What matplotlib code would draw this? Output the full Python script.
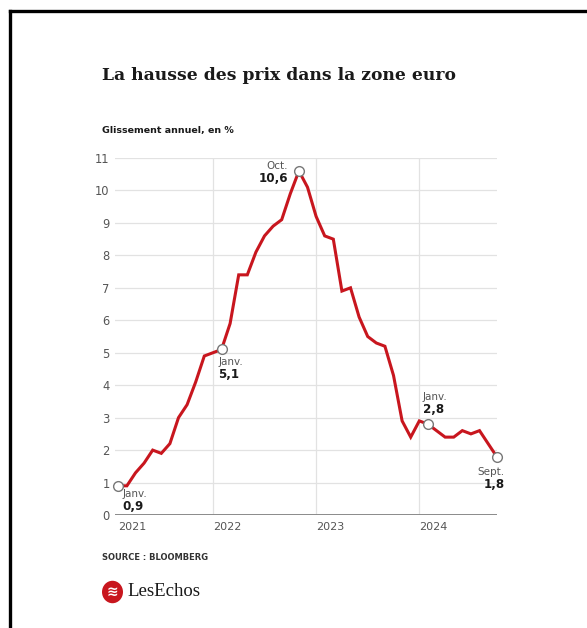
import numpy as np
import matplotlib
matplotlib.use("Agg")
from matplotlib import pyplot as plt
from matplotlib.lines import Line2D
from matplotlib.patches import Circle

# inflation zone euro, glissement annuel en %, janv. 2021 -> sept. 2024
inflation_2021 = [0.9, 0.9, 1.3, 1.6, 2.0, 1.9, 2.2, 3.0, 3.4, 4.1, 4.9, 5.0]
inflation_2022 = [5.1, 5.9, 7.4, 7.4, 8.1, 8.6, 8.9, 9.1, 9.9, 10.6, 10.1, 9.2]
inflation_2023 = [8.6, 8.5, 6.9, 7.0, 6.1, 5.5, 5.3, 5.2, 4.3, 2.9, 2.4, 2.9]
inflation_2024 = [2.8, 2.6, 2.4, 2.4, 2.6, 2.5, 2.6, 2.2, 1.8]
years = ["2021", "2022", "2023", "2024"]
yticks = list(range(0, 12))

# points mis en avant : (indice du mois, mois)
highlights = [(0, "Janv."), (12, "Janv."), (21, "Oct."), (36, "Janv."), (44, "Sept.")]

values = inflation_2021 + inflation_2022 + inflation_2023 + inflation_2024
months = np.arange(len(values))

RED = "#c8161e"
GRAY = "#555555"
GRID = "#e2e2e2"

fig = plt.figure(figsize=(5.87, 6.28), dpi=100)
ax = fig.add_axes([0.1964, 0.1799, 0.6498, 0.5685])

# grille horizontale et verticale (debut de chaque annee)
for v in yticks[1:]:
    ax.axhline(v, color=GRID, lw=0.9, zorder=1)
year_pos = [0, 11, 23, 35]
for p in year_pos[1:]:
    ax.axvline(p, color=GRID, lw=0.9, zorder=1)
ax.axhline(0, color="#8a8a8a", lw=1.4, zorder=2)

ax.plot(months, values, color=RED, lw=2.2, solid_joinstyle="miter", zorder=3)

for i, mois in highlights:
    ax.plot(months[i], values[i], "o", ms=7, mfc="white", mec="#777777",
            mew=1, zorder=4, clip_on=False)

def note(i, mois, dx, dy, ha):
    x, y = months[i], values[i]
    txt = f"{y:.1f}".replace(".", ",")
    ax.annotate(mois, (x, y), xytext=(dx, dy), textcoords="offset pixels",
                ha=ha, va="center", fontsize=7.5, color=GRAY, zorder=5)
    ax.annotate(txt, (x, y), xytext=(dx, dy - 12.5), textcoords="offset pixels",
                ha=ha, va="center", fontsize=8.6, fontweight="bold",
                color="#1a1a1a", zorder=5)

note(0, "Janv.", 4, -8, "left")
note(12, "Janv.", -3, -13, "left")
note(21, "Oct.", -11, 5, "right")
note(36, "Janv.", -5, 27, "left")
note(44, "Sept.", 8, -15, "right")

ax.set_xlim(-0.35, 44)
ax.set_ylim(0, 11)
ax.set_yticks(yticks)
ax.set_yticklabels([str(v) for v in yticks])
ax.set_xticks([])
ax.tick_params(axis="y", length=0, pad=4, labelsize=8.3, labelcolor=GRAY)
for s in ax.spines.values():
    s.set_visible(False)

for p, lab in zip(year_pos, years):
    ax.text(p, -0.37, lab, ha="left", va="center", fontsize=8, color=GRAY)

# titres
fig.text(102 / 587, 1 - 75 / 628, "La hausse des prix dans la zone euro",
         fontsize=12.3, fontweight="bold", family="DejaVu Serif",
         color="#1a1a1a", va="center", ha="left")
fig.text(102 / 587, 1 - 130 / 628, "Glissement annuel, en %", fontsize=6.8,
         fontweight="bold", color="#1a1a1a", va="center", ha="left")
fig.text(102 / 587, 1 - 558 / 628, "SOURCE : BLOOMBERG", fontsize=6.0,
         fontweight="bold", color="#333333", va="center", ha="left")

# logo
logo = Circle((112.5 / 587, 1 - 592 / 628), 10.5 / 587,
              facecolor=RED, edgecolor="none")
logo.set_transform(fig.transFigure)
fig.patches.append(logo)
fig.text(112.5 / 587, 1 - 592 / 628, "≋", fontsize=10, color="white",
         ha="center", va="center", fontweight="bold")
fig.text(127 / 587, 1 - 591 / 628, "LesEchos", fontsize=13.5,
         family="Liberation Serif", color="#1a1a1a", ha="left", va="center")

# cadre haut et gauche
fig.add_artist(Line2D([10 / 587, 1], [1 - 11 / 628, 1 - 11 / 628],
                      color="black", lw=2.4, transform=fig.transFigure))
fig.add_artist(Line2D([10 / 587, 10 / 587], [0, 1 - 11 / 628],
                      color="black", lw=2.4, transform=fig.transFigure))

plt.savefig("out.png", dpi=100, facecolor="white")
